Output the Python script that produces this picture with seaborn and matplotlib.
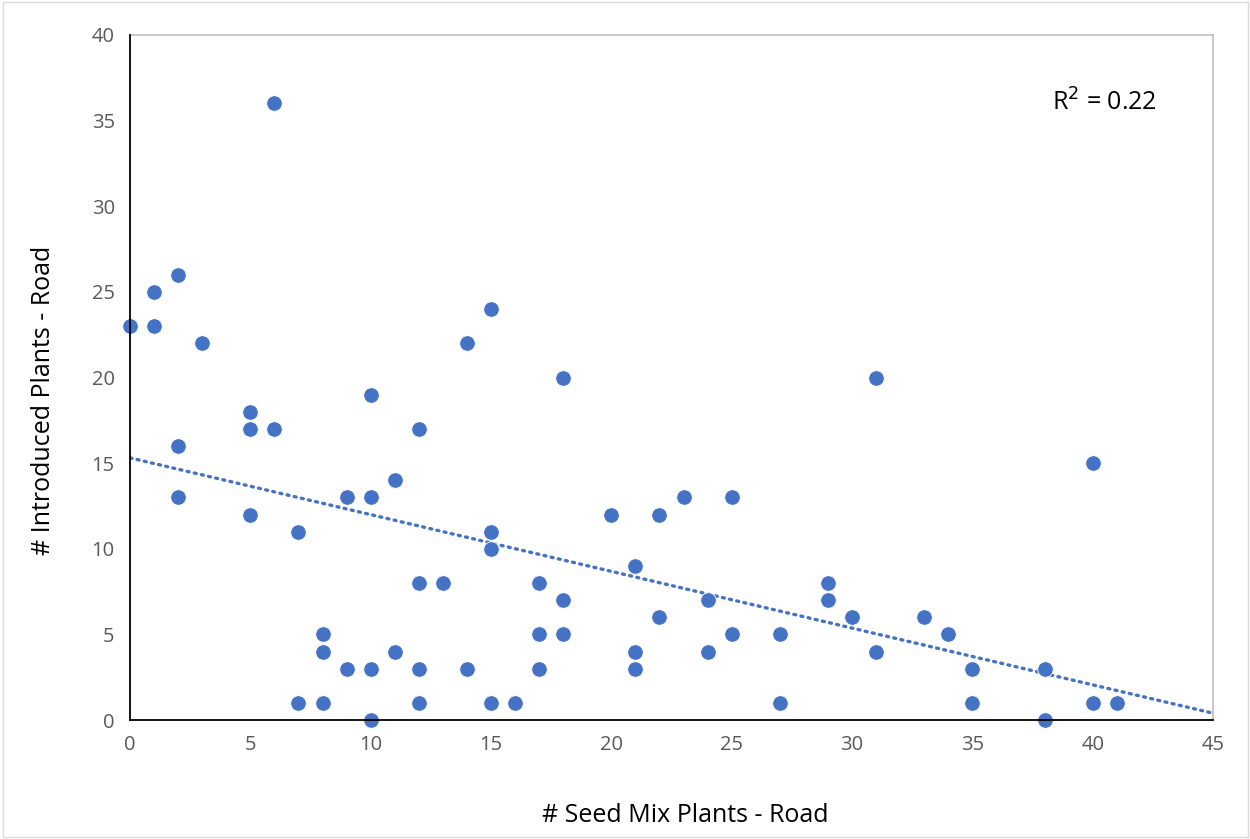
import numpy as np
import pandas as pd
import seaborn as sns
import matplotlib.pyplot as plt

# values
seed_mix = [0, 1, 1, 2, 2, 2, 3, 5, 5, 5, 6, 6, 7, 7, 8, 8, 8, 9, 9,
            10, 10, 10, 10, 11, 11, 12, 12, 12, 12, 13, 14, 14,
            15, 15, 15, 15, 16, 17, 17, 17, 18, 18, 18, 20,
            21, 21, 21, 22, 22, 23, 24, 24, 25, 25, 27, 27,
            29, 29, 30, 31, 31, 33, 34, 35, 35, 38, 38, 40, 40, 41]
introduced = [23, 25, 23, 26, 16, 13, 22, 18, 17, 12, 36, 17, 11, 1, 5, 4, 1, 13, 3,
              19, 13, 3, 0, 14, 4, 17, 8, 3, 1, 8, 22, 3,
              24, 11, 10, 1, 1, 8, 5, 3, 20, 7, 5, 12,
              9, 4, 3, 12, 6, 13, 7, 4, 13, 5, 5, 1,
              8, 7, 6, 20, 4, 6, 5, 3, 1, 3, 0, 15, 1, 1]
r_squared_label = '0.22'   # as printed on the chart

df = pd.DataFrame({'seed_mix': seed_mix, 'introduced': introduced})

blue = '#4472C4'
grey = '#595959'

sns.set_style('white')
plt.rcParams['font.family'] = ['Open Sans', 'DejaVu Sans']

fig = plt.figure(figsize=(12.5, 8.39), dpi=100)
ax = fig.add_axes([0.104, 0.1418, 0.8664, 0.8165])

sns.scatterplot(data=df, x='seed_mix', y='introduced', ax=ax, color=blue,
                s=125, edgecolor='white', linewidth=0.6, zorder=3, clip_on=False)

# linear trendline, extended to the end of the axis like Excel does
slope, intercept = np.polyfit(df['seed_mix'], df['introduced'], 1)
xs = np.array([0, 45])
ax.plot(xs, slope * xs + intercept, linestyle=(0, (0.6, 1.6)), color=blue, linewidth=2.4,
        dash_capstyle='round', zorder=2)

ax.set_xlim(0, 45)
ax.set_ylim(0, 40)
ax.set_xticks(range(0, 46, 5))
ax.set_yticks(range(0, 41, 5))
ax.tick_params(axis='both', direction='out', length=6, width=1.2, colors='black',
               labelcolor=grey, labelsize=14.5, pad=5)

for side in ['left', 'bottom']:
    ax.spines[side].set_color('black')
    ax.spines[side].set_linewidth(1.3)
    ax.spines[side].set_zorder(4)
for side in ['top', 'right']:
    ax.spines[side].set_color('#BFBFBF')
    ax.spines[side].set_linewidth(1.2)

ax.set_xlabel('# Seed Mix Plants - Road', fontsize=18, color='black', va='center')
ax.set_ylabel('# Introduced Plants - Road', fontsize=18, color='black', va='center')
ax.xaxis.set_label_coords(0.5125, -0.139)
ax.yaxis.set_label_coords(-0.080, 0.467)

ax.text(0.948, 0.90, 'R$^2$ = ' + r_squared_label, transform=ax.transAxes, ha='right',
        va='center', fontsize=18, color='black')

# chart border
fig.patches.append(plt.Rectangle((0.002, 0.002), 0.996, 0.996, transform=fig.transFigure,
                                 fill=False, edgecolor='#D9D9D9', linewidth=1))

fig.savefig('out.png', dpi=100)
